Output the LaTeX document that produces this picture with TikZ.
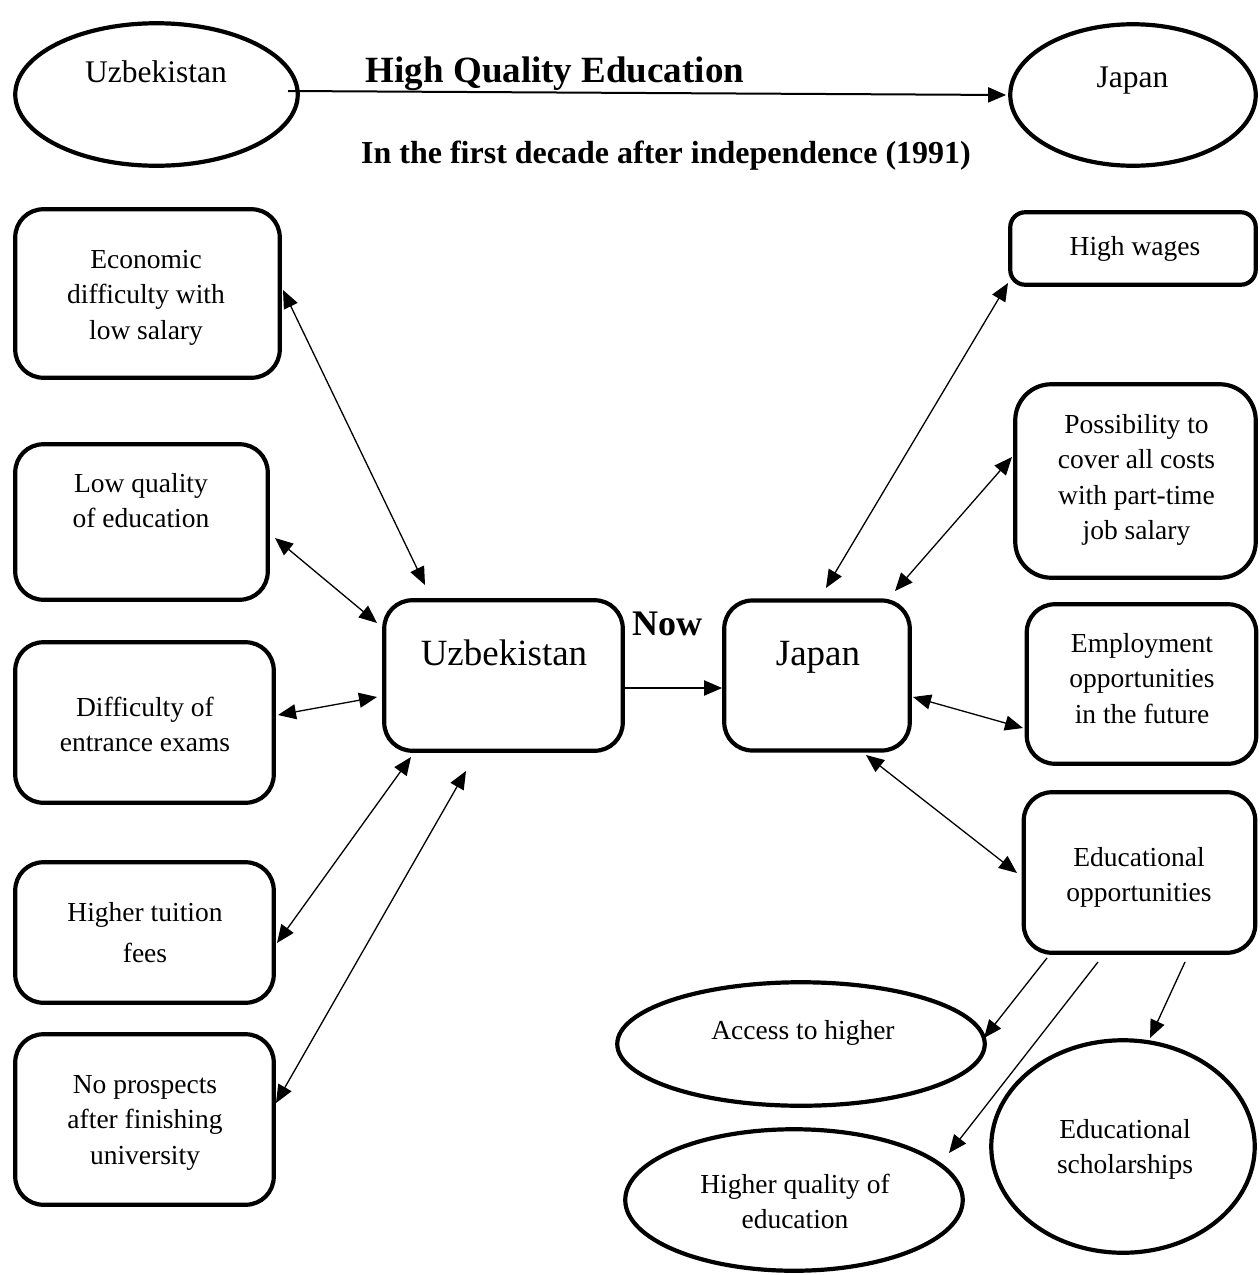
\documentclass[tikz,border=0pt]{standalone}
\usepackage{fontspec}
\setmainfont{Liberation Serif}
\usetikzlibrary{shapes.geometric,arrows.meta}
\begin{document}
\begin{tikzpicture}[x=1pt,y=-1pt,
  box/.style={draw, line width=4.2pt, rounded corners=28pt, inner sep=0pt},
  oval/.style={draw, ellipse, line width=4.2pt, inner sep=0pt},
  txt/.style={inner sep=0pt, align=center, font=\fontsize{27.5}{35.5}\selectfont},
  tipx/.tip={Triangle[length=18pt,width=15pt]},
  dbl/.style={line width=1.3pt, tipx-tipx},
  sgl/.style={line width=1.3pt, -tipx},
  thick arrow/.style={line width=2pt, -tipx},
]
\useasboundingbox (0,0) rectangle (1259,1275);

% top ellipses
\node[oval, minimum width=282.5pt, minimum height=142.5pt] (uzT) at (156.5,94.5) {};
\node[oval, minimum width=245.5pt, minimum height=141.5pt] (jpT) at (1133,95) {};
\node[txt, font=\fontsize{31.5}{36}\selectfont, anchor=base] (tUzT) at (156,82) {Uzbekistan};
\node[txt, font=\fontsize{31.5}{36}\selectfont, anchor=base] (tJpT) at (1132.5,87) {Japan};
\draw[thick arrow] ([shift={(131.5,-3.5)}]uzT.center) -- ([shift={(-2,0)}]jpT.west);
\node[txt, font=\fontsize{37}{40}\selectfont\bfseries, anchor=base] (title1) at (555,82) {High Quality Education};
\node[txt, font=\fontsize{32}{36}\selectfont\bfseries, anchor=base] (title2) at (666,163) {In the first decade after independence (1991)};

% left boxes
\node[box, minimum width=264.5pt, minimum height=168.5pt] (econ) at (147.5,293.5) {};
\node[box, minimum width=252.5pt, minimum height=155.5pt] (lowq) at (141.5,522) {};
\node[box, minimum width=258.5pt, minimum height=160.5pt] (diff) at (144.5,722.5) {};
\node[box, minimum width=258.5pt, minimum height=140.5pt] (tuit) at (144.5,932.5) {};
\node[box, minimum width=258.5pt, minimum height=170.5pt] (nopr) at (144.5,1119.5) {};
\node[txt, anchor=north] (tEcon) at (146,243.15) {\strut Economic\\difficulty with\\low salary};
\node[txt, anchor=north] (tLowq) at (141,467.15) {\strut Low quality\\of education};
\node[txt, anchor=north] (tDiff) at (145,691.15) {\strut Difficulty of\\entrance exams};
\node[txt, anchor=north] (tTuit) at (145,896.15) {\strut Higher tuition\\[5.5pt]fees};
\node[txt, anchor=north] (tNopr) at (145,1068.15) {\strut No prospects\\after finishing\\university};

% central boxes
\node[box, minimum width=238.5pt, minimum height=150.5pt] (uzb) at (503.5,675.5) {};
\node[box, minimum width=185.5pt, minimum height=150pt] (jp) at (817,675.5) {};
\node[txt, font=\fontsize{37}{40}\selectfont, anchor=base] (tUzb) at (504,665) {Uzbekistan};
\node[txt, font=\fontsize{37}{40}\selectfont, anchor=base] (tJp) at (818,665) {Japan};
\node[txt, font=\fontsize{36}{40}\selectfont\bfseries, anchor=base] (tNow) at (667,635) {Now};
\draw[thick arrow] ([yshift=-12.5pt]uzb.east) -- ([yshift=-12.5pt]jp.west);

% right boxes
\node[box, rounded corners=15pt, minimum width=245.5pt, minimum height=72.5pt] (wages) at (1133,248.5) {};
\node[box, rounded corners=36pt, minimum width=240.5pt, minimum height=193.5pt] (poss) at (1135.5,481) {};
\node[box, minimum width=229.5pt, minimum height=159.5pt] (empl) at (1141.5,684) {};
\node[box, minimum width=231.5pt, minimum height=160.5pt] (eduo) at (1139.5,872.5) {};
\node[txt, anchor=base] (tWages) at (1135,255) {High wages};
\node[txt, anchor=north] (tPoss) at (1136.5,408.15) {\strut Possibility to\\cover all costs\\with part-time\\job salary};
\node[txt, anchor=north] (tEmpl) at (1142,627.15) {\strut Employment\\opportunities\\in the future};
\node[txt, anchor=north] (tEduo) at (1139,841.15) {\strut Educational\\opportunities};

% bottom ellipses
\node[oval, minimum width=367.5pt, minimum height=123.5pt] (acc) at (801,1044) {};
\node[oval, minimum width=337.5pt, minimum height=141.5pt] (hq) at (794,1200) {};
\node[oval, minimum width=263.5pt, minimum height=212.5pt] (sch) at (1123,1146.5) {};
\node[txt, anchor=base] (tAcc) at (803,1039) {Access to higher};
\node[txt, anchor=north] (tHq) at (795,1168.15) {\strut Higher quality of\\education};
\node[txt, anchor=north] (tSch) at (1125,1113.15) {\strut Educational\\scholarships};

% left connectors
\draw[dbl] ([shift={(135.5,-3.5)}]econ.center) -- ([shift={(-78.5,-90.5)}]uzb.center);
\draw[dbl] ([shift={(133.5,16)}]lowq.center) -- ([shift={(-126.5,-52.5)}]uzb.center);
\draw[dbl] ([shift={(133.5,-7.5)}]diff.center) -- ([shift={(-126.5,21.5)}]uzb.center);
\draw[dbl] ([shift={(132.5,10.5)}]tuit.center) -- ([shift={(-92.5,81.5)}]uzb.center);
\draw[dbl] ([shift={(131.5,-16.5)}]nopr.center) -- ([shift={(-37.5,95.5)}]uzb.center);

% right connectors
\draw[dbl] ([shift={(-125,34.5)}]wages.center) -- ([shift={(9,-87.5)}]jp.center);
\draw[dbl] ([shift={(-123.5,-24)}]poss.center) -- ([shift={(78,-84.5)}]jp.center);
\draw[dbl] ([shift={(96,21.5)}]jp.center) -- ([shift={(-118.5,44)}]empl.center);
\draw[dbl] ([shift={(49,79.5)}]jp.center) -- ([shift={(-122.5,0.5)}]eduo.center);

% bottom connectors
\draw[sgl] ([shift={(-92.5,85.5)}]eduo.center) -- ([shift={(183,-6)}]acc.center);
\draw[sgl] ([shift={(-41.5,89.5)}]eduo.center) -- ([shift={(155,-47)}]hq.center);
\draw[sgl] ([shift={(45.5,89.5)}]eduo.center) -- ([shift={(27,-108.5)}]sch.center);
\end{tikzpicture}
\end{document}
